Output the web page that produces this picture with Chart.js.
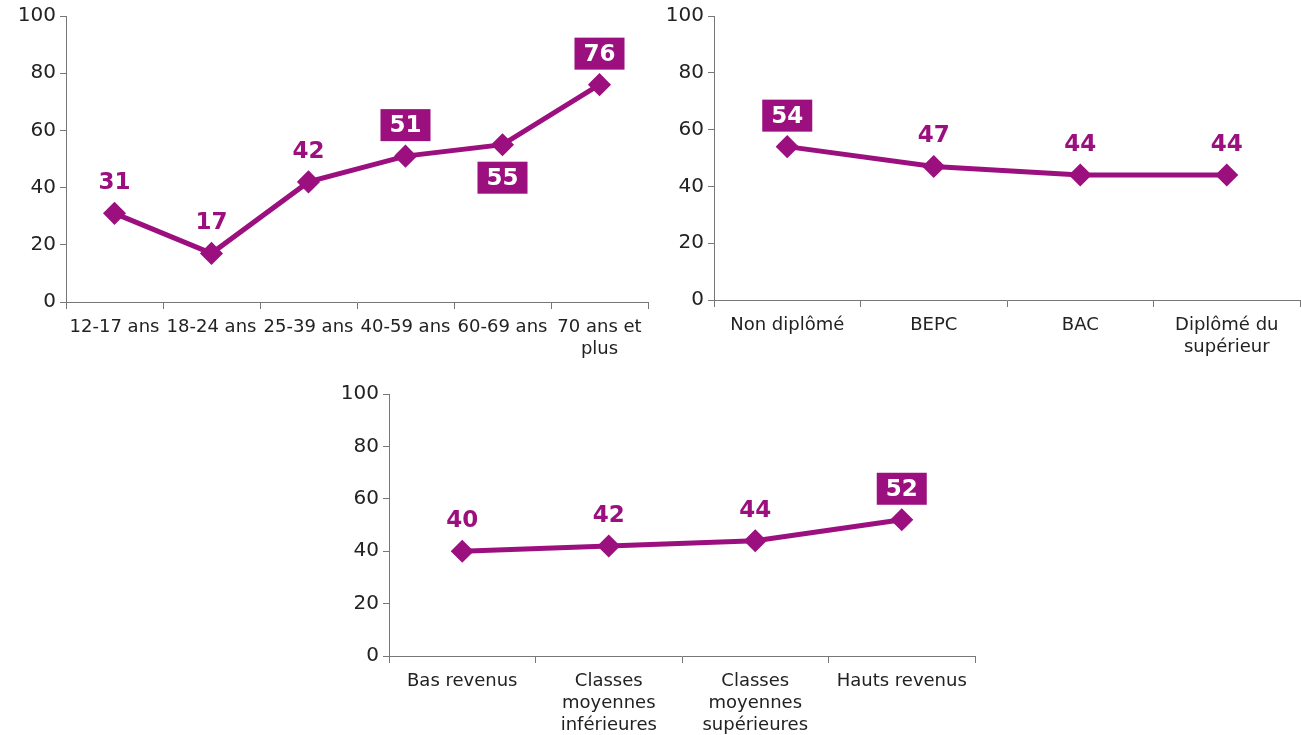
<!DOCTYPE html>
<html>
<head>
<meta charset="utf-8">
<script src="https://cdn.jsdelivr.net/npm/chart.js@4"></script>
<style>
  body { margin: 0; background: #fff; width: 1301px; height: 735px; position: relative; overflow: hidden; }
  .box { position: absolute; }
</style>
</head>
<body>
<div class="box" style="left:0;top:0;width:661px;height:360px"><canvas id="ageChart"></canvas></div>
<div class="box" style="left:650px;top:0;width:663px;height:360px"><canvas id="diplomeChart"></canvas></div>
<div class="box" style="left:320px;top:378px;width:668px;height:357px"><canvas id="revenuChart"></canvas></div>
<script>
// data
const ageLabels = ['12-17 ans', '18-24 ans', '25-39 ans', '40-59 ans', '60-69 ans', ['70 ans et', 'plus']];
const ageValues = [31, 17, 42, 51, 55, 76];
const ageBoxed = [false, false, false, true, true, true];
const ageBelow = [false, false, false, false, true, false];

const diplomeLabels = ['Non diplômé', 'BEPC', 'BAC', ['Diplômé du', 'supérieur']];
const diplomeValues = [54, 47, 44, 44];
const diplomeBoxed = [true, false, false, false];
const diplomeBelow = [false, false, false, false];

const revenuLabels = ['Bas revenus', ['Classes', 'moyennes', 'inférieures'], ['Classes', 'moyennes', 'supérieures'], 'Hauts revenus'];
const revenuValues = [40, 42, 44, 52];
const revenuBoxed = [false, false, false, true];
const revenuBelow = [false, false, false, false];

const yTicks = [0, 20, 40, 60, 80, 100];

const purple = '#9b107e';
const font = 'DejaVu Sans, Verdana, sans-serif';

// draws the value labels (plain or in a purple box) above/below each point
const valueLabels = {
  id: 'valueLabels',
  afterDatasetsDraw(chart, args, opts) {
    const ctx = chart.ctx;
    const meta = chart.getDatasetMeta(0);
    const values = chart.data.datasets[0].data;
    ctx.save();
    ctx.font = 'bold 23px ' + font;
    ctx.textAlign = 'center';
    ctx.textBaseline = 'middle';
    meta.data.forEach((pt, i) => {
      const txt = String(values[i]);
      const y = opts.below[i] ? pt.y + 33 : pt.y - 31;
      if (opts.boxed[i]) {
        const w = ctx.measureText(txt).width + 18;
        ctx.fillStyle = purple;
        ctx.fillRect(pt.x - w / 2, y - 16, w, 32);
        ctx.fillStyle = '#fff';
      } else {
        ctx.fillStyle = purple;
      }
      ctx.fillText(txt, pt.x, y + 1);
    });
    ctx.restore();
  }
};

function makeChart(id, labels, values, boxed, below, yWidth, xHeight) {
  const ctx = document.getElementById(id).getContext('2d');
  return new Chart(ctx, {
    type: 'line',
    data: {
      labels: labels,
      datasets: [{
        data: values,
        borderColor: purple,
        backgroundColor: purple,
        borderWidth: 5,
        pointStyle: 'rectRot',
        pointRadius: 8,
        pointHoverRadius: 8,
        tension: 0
      }]
    },
    options: {
      responsive: true,
      maintainAspectRatio: false,
      animation: false,
      events: [],
      layout: { padding: { top: 14, right: 2, left: 0, bottom: 0 } },
      plugins: {
        legend: { display: false },
        tooltip: { enabled: false },
        valueLabels: { boxed: boxed, below: below }
      },
      scales: {
        x: {
          offset: true,
          grid: { offset: true, drawOnChartArea: false, drawTicks: true, tickLength: 7, color: '#777' },
          border: { color: '#777', width: 1 },
          ticks: {
            color: '#222',
            font: { family: font, size: 18 },
            maxRotation: 0,
            autoSkip: false,
            padding: 8
          },
          afterFit: (scale) => { scale.height = xHeight; }
        },
        y: {
          min: 0,
          max: 100,
          afterBuildTicks: (scale) => { scale.ticks = yTicks.map(v => ({ value: v })); },
          grid: { drawOnChartArea: false, drawTicks: true, tickLength: 6, color: '#777' },
          border: { color: '#777', width: 1 },
          ticks: {
            color: '#222',
            font: { family: font, size: 20 },
            padding: 4
          },
          afterFit: (scale) => { scale.width = yWidth; }
        }
      }
    },
    plugins: [valueLabels]
  });
}

makeChart('ageChart', ageLabels, ageValues, ageBoxed, ageBelow, 66, 58);
makeChart('diplomeChart', diplomeLabels, diplomeValues, diplomeBoxed, diplomeBelow, 64, 60);
makeChart('revenuChart', revenuLabels, revenuValues, revenuBoxed, revenuBelow, 69, 79);
</script>
</body>
</html>
